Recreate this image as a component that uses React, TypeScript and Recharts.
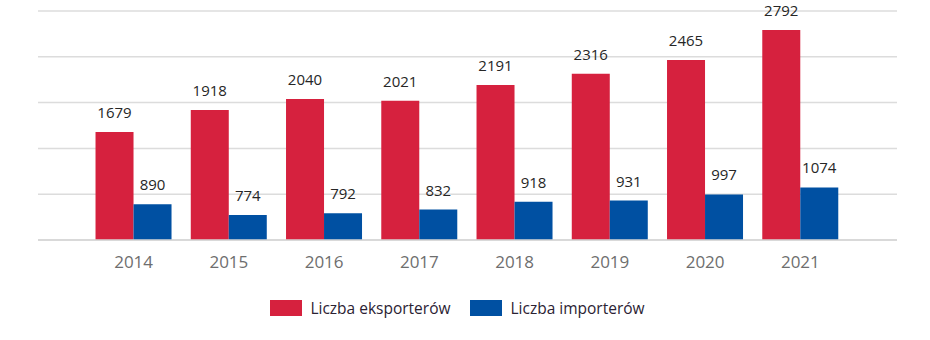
import { BarChart, Bar, XAxis, YAxis, CartesianGrid, Legend, LabelList } from "recharts";

const years = ["2014", "2015", "2016", "2017", "2018", "2019", "2020", "2021"];
const exporters = [1679, 1918, 2040, 2021, 2191, 2316, 2465, 2792];
const importers = [890, 774, 792, 832, 918, 931, 997, 1074];
const yTicks = [500, 1000, 1500, 2000, 2500, 3000];

const RED = "#d6213e";
const BLUE = "#0050a2";
const FONT = "'Segoe UI', 'Open Sans', sans-serif";

const data = years.map((y, i) => ({ year: y, exp: exporters[i], imp: importers[i] }));

const seriesNames: Record<string, string> = {
  exp: "Liczba eksporterów",
  imp: "Liczba importerów",
};

function LegendBox() {
  return (
    <div style={{ height: 60, display: "flex", justifyContent: "center", alignItems: "flex-start", paddingTop: 17, boxSizing: "border-box", fontFamily: FONT }}>
      {[["exp", RED], ["imp", BLUE]].map(([k, c]) => (
        <div key={k} style={{ display: "flex", alignItems: "center", marginRight: 20 }}>
          <span style={{ width: 32, height: 16, background: c, display: "inline-block", marginRight: 8 }} />
          <span style={{ fontSize: 15.5, color: "#2b2233" }}>{seriesNames[k]}</span>
        </div>
      ))}
    </div>
  );
}

export default function App() {
  return (
    <div style={{ position: "absolute", left: 0, top: 0, background: "#fff" }}>
      <BarChart
        width={930}
        height={340}
        data={data}
        margin={{ top: 11, right: 33, left: 38, bottom: 0 }}
        barCategoryGap="10%"
        barGap={0}
      >
        <CartesianGrid vertical={false} stroke="#dcdcdc" strokeWidth={1.5} />
        <XAxis
          dataKey="year"
          axisLine={{ stroke: "#d4d4d4", strokeWidth: 1.5 }}
          tickLine={false}
          tickMargin={10}
          height={40}
          padding={{ left: 48, right: 49 }}
          tick={{ fill: "#6e6e6e", fontSize: 17, fontFamily: FONT }}
        />
        <YAxis hide domain={[500, 3000]} ticks={yTicks} />
        <Legend verticalAlign="bottom" content={<LegendBox />} />
        <Bar dataKey="exp" fill={RED} isAnimationActive={false}>
          <LabelList dataKey="exp" position="top" offset={14} fill="#262626" fontSize={15} fontFamily={FONT} />
        </Bar>
        <Bar dataKey="imp" fill={BLUE} isAnimationActive={false}>
          <LabelList dataKey="imp" position="top" offset={14} fill="#262626" fontSize={15} fontFamily={FONT} />
        </Bar>
      </BarChart>
    </div>
  );
}
